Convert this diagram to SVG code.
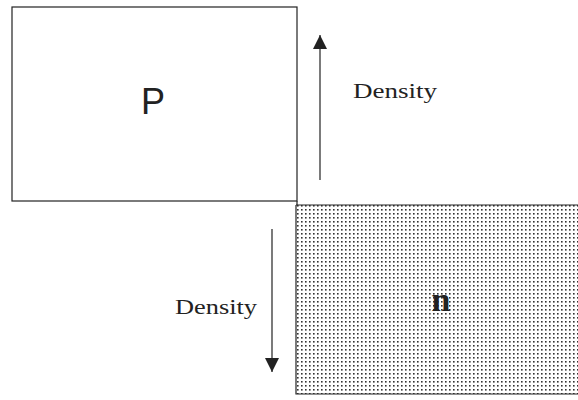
<svg xmlns="http://www.w3.org/2000/svg" width="578" height="400" viewBox="0 0 578 400">
<style>
.box{fill:none;stroke:#222;stroke-width:1.2}
.conn{stroke:#222;stroke-width:1.2;fill:none}
.lbl{font-family:"Liberation Serif","Times New Roman",serif;font-size:22px;fill:#222}
</style>
<defs>
<pattern id="dots" width="4" height="4" patternUnits="userSpaceOnUse">
<rect x="1" y="1" width="1.6" height="1.6" fill="#333"/>
</pattern>
<marker id="ah" viewBox="0 0 14 16" refX="14" refY="7" markerWidth="14" markerHeight="16" markerUnits="userSpaceOnUse" orient="auto">
<path d="M0,0 L14,7 L0,14 Z" fill="#222"/>
</marker>
</defs>
<rect width="578" height="400" fill="#fff"/>
<g id="p">
<rect class="box" x="12" y="7" width="285" height="194"/>
<text x="141" y="114" font-family="'Liberation Sans',Arial,sans-serif" font-size="36" fill="#222">P</text>
</g>
<g id="n">
<rect x="296" y="205" width="290" height="189" fill="url(#dots)"/>
<path class="box" d="M296,205 H580 M296,205 V394 H580"/>
<text x="441" y="311" text-anchor="middle" font-family="'Liberation Serif','Times New Roman',serif" font-weight="bold" font-size="34" fill="#222">n</text>
</g>
<g id="connectors">
<line class="conn" x1="297" y1="201" x2="297" y2="205"/>
<line class="conn" x1="320" y1="180" x2="320" y2="35" marker-end="url(#ah)"/>
<line class="conn" x1="272" y1="229" x2="272" y2="372" marker-end="url(#ah)"/>
</g>
<g id="labels">
<text class="lbl" x="353" y="98" textLength="84" lengthAdjust="spacingAndGlyphs">Density</text>
<text class="lbl" x="175" y="314" textLength="82" lengthAdjust="spacingAndGlyphs">Density</text>
</g>
</svg>
